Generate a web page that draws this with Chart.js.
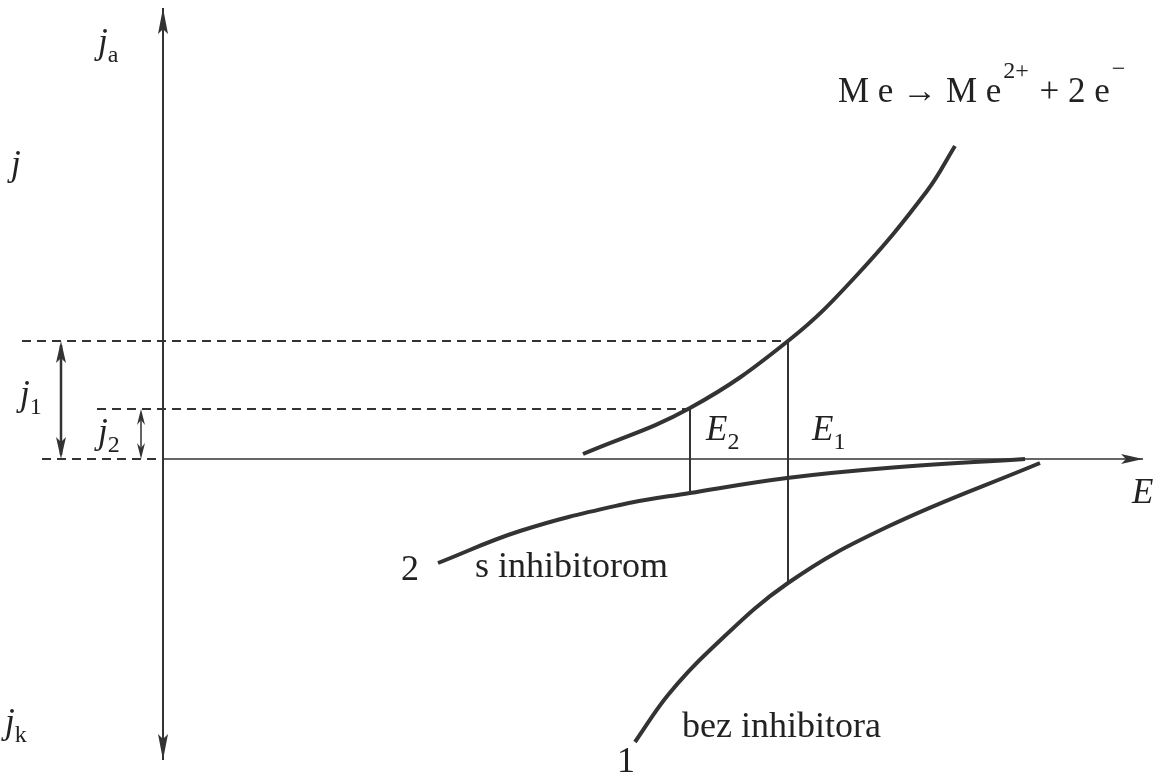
<!DOCTYPE html>
<html>
<head>
<meta charset="utf-8">
<script src="https://cdn.jsdelivr.net/npm/chart.js@4.4.1/dist/chart.umd.min.js"></script>
<style>
  html, body { margin: 0; padding: 0; background: #fff; }
  canvas { display: block; }
</style>
</head>
<body>
<canvas id="diagram" width="1161" height="774"></canvas>
<script>
// Polarization curves (E in arbitrary units from the j axis, j from the E axis)
const anodeE = [420, 527, 625, 694, 764, 792];
const anodeJ = [5, 51, 118, 184, 268, 313];

// curve 2 - s inhibitorom
const inhE = [275, 357, 457, 527, 624, 724, 862];
const inhJ = [-104, -72, -46, -34, -19, -9, 0];

// curve 1 - bez inhibitora
const bezE = [472, 505, 547, 625, 724, 877];
const bezJ = [-283, -236, -191, -124, -68, -4];

// corrosion potentials and currents
const E1 = 625, E2 = 527;
const j1 = 118, j2 = 50;

// axis extents
const jAxis = [451, -301];
const eAxis = [0, 980];

const INK = '#333';

const pts = (xs, ys) => xs.map((x, i) => ({ x: x, y: ys[i] }));

const line = (data, opts) => Object.assign({
    data: data,
    showLine: true,
    borderColor: INK,
    borderWidth: 2,
    pointRadius: 0,
    tension: 0,
    clip: false
}, opts || {});

const datasets = [
    // axes
    line([{ x: 0, y: jAxis[0] }, { x: 0, y: jAxis[1] }], { borderWidth: 2 }),
    line([{ x: eAxis[0], y: 0 }, { x: eAxis[1], y: 0 }], { borderWidth: 1.6 }),
    // dashed levels
    line([{ x: -141, y: j1 }, { x: E1, y: j1 }], { borderDash: [9, 6], borderWidth: 1.8 }),
    line([{ x: -66, y: j2 }, { x: E2, y: j2 }], { borderDash: [9, 6], borderWidth: 1.8 }),
    line([{ x: -121, y: 0 }, { x: -4, y: 0 }], { borderDash: [9, 6], borderWidth: 2 }),
    // potential verticals
    line([{ x: E2, y: j2 }, { x: E2, y: -34 }], { borderWidth: 2 }),
    line([{ x: E1, y: j1 }, { x: E1, y: -124 }], { borderWidth: 2 }),
    // j1, j2 double arrows (shafts)
    line([{ x: -102, y: j1 - 4 }, { x: -102, y: 4 }], { borderWidth: 2.5 }),
    line([{ x: -22, y: j2 - 4 }, { x: -22, y: 4 }], { borderWidth: 1.5 }),
    // curves
    line(pts(anodeE, anodeJ), { borderWidth: 4, tension: 0.4 }),
    line(pts(inhE, inhJ), { borderWidth: 4, tension: 0.4 }),
    line(pts(bezE, bezJ), { borderWidth: 4, tension: 0.4 })
];

// arrowheads: tip point, direction, length, half width
const arrowHeads = [
    { x: 0, y: jAxis[0], dir: 'up', len: 26, w: 5 },
    { x: 0, y: jAxis[1], dir: 'down', len: 26, w: 5 },
    { x: eAxis[1], y: 0, dir: 'right', len: 22, w: 5 },
    { x: -102, y: j1, dir: 'up', len: 22, w: 5 },
    { x: -102, y: 0, dir: 'down', len: 22, w: 5 },
    { x: -22, y: j2, dir: 'up', len: 16, w: 4 },
    { x: -22, y: 0, dir: 'down', len: 16, w: 4 }
];

const SERIF = '"Liberation Serif", "Times New Roman", serif';

const labels = [
    { t: 'j', sub: 'a', x: -65, y: 406, it: true },
    { t: 'j', x: -152, y: 284, it: true },
    { t: 'j', sub: '1', x: -143, y: 54, it: true },
    { t: 'j', sub: '2', x: -65, y: 16, it: true },
    { t: 'j', sub: 'k', x: -158, y: -274, it: true },
    { t: 'E', sub: '2', x: 543, y: 19, it: true },
    { t: 'E', sub: '1', x: 649, y: 19, it: true },
    { t: 'E', x: 969, y: -44, it: true },
    { t: '2', x: 238, y: -121 },
    { t: 's inhibitorom', x: 312, y: -118 },
    { t: '1', x: 454, y: -313 },
    { t: 'bez inhibitora', x: 519, y: -278 }
];

function drawHead(ctx, px, py, dir, len, w) {
    ctx.beginPath();
    ctx.moveTo(px, py);
    if (dir === 'up') { ctx.lineTo(px - w, py + len); ctx.lineTo(px, py + len - 5); ctx.lineTo(px + w, py + len); }
    if (dir === 'down') { ctx.lineTo(px - w, py - len); ctx.lineTo(px, py - len + 5); ctx.lineTo(px + w, py - len); }
    if (dir === 'right') { ctx.lineTo(px - len, py - w); ctx.lineTo(px - len + 5, py); ctx.lineTo(px - len, py + w); }
    ctx.closePath();
    ctx.fill();
}

const decorations = {
    id: 'decorations',
    afterDatasetsDraw(chart) {
        const ctx = chart.ctx;
        const sx = chart.scales.x, sy = chart.scales.y;
        ctx.save();
        ctx.fillStyle = INK;
        arrowHeads.forEach(a => {
            drawHead(ctx, sx.getPixelForValue(a.x), sy.getPixelForValue(a.y), a.dir, a.len, a.w);
        });

        ctx.fillStyle = '#222';
        ctx.textBaseline = 'alphabetic';
        labels.forEach(l => {
            let px = sx.getPixelForValue(l.x), py = sy.getPixelForValue(l.y);
            ctx.font = (l.it ? 'italic 35px ' : '36px ') + SERIF;
            ctx.fillText(l.t, px, py);
            if (l.sub) {
                const w = ctx.measureText(l.t).width;
                ctx.font = '24px ' + SERIF;
                ctx.fillText(l.sub, px + w + (l.it ? 0 : 1), py + 9);
            }
        });

        // Me -> Me2+ + 2e-
        let px = sx.getPixelForValue(675), py = sy.getPixelForValue(357);
        const parts = [
            { s: 'M e \u2192 M e', f: '35px ' + SERIF, dy: 0 },
            { s: '2+', f: '24px ' + SERIF, dy: -24 },
            { s: ' + 2 e', f: '35px ' + SERIF, dy: 0 },
            { s: '\u2212', f: '24px ' + SERIF, dy: -26 }
        ];
        parts.forEach(p => {
            ctx.font = p.f;
            ctx.fillText(p.s, px, py + p.dy);
            px += ctx.measureText(p.s).width + 2;
        });
        ctx.restore();
    }
};

new Chart(document.getElementById('diagram'), {
    type: 'scatter',
    data: { datasets: datasets },
    options: {
        responsive: false,
        animation: false,
        events: [],
        layout: { padding: 0 },
        plugins: { legend: { display: false }, tooltip: { enabled: false } },
        scales: {
            x: { type: 'linear', min: -163, max: 998, display: false },
            y: { type: 'linear', min: -315, max: 459, display: false }
        }
    },
    plugins: [decorations]
});
</script>
</body>
</html>
